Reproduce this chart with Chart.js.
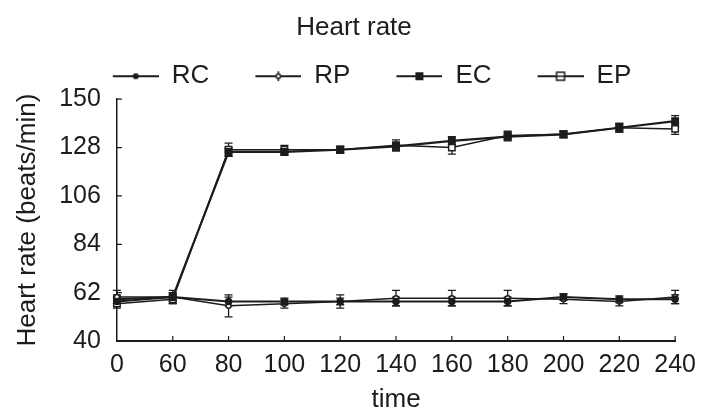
<!DOCTYPE html>
<html>
<head>
<meta charset="utf-8">
<script src="https://cdn.jsdelivr.net/npm/chart.js@4.4.1/dist/chart.umd.min.js"></script>
<style>
  html, body { margin: 0; padding: 0; background: #fff; }
  #wrap { width: 708px; height: 413px; }
</style>
</head>
<body>
<div id="wrap"><canvas id="grafica"></canvas></div>
<script>
// datos
const tiempos = ['0', '60', '80', '100', '120', '140', '160', '180', '200', '220', '240'];
const valoresRC = [58, 60, 58, 58, 58, 58, 58, 58, 60, 59, 59];
const valoresRP = [60, 60, 56, 57, 58, 59.5, 59.5, 59.5, 59, 58, 60];
const valoresEC = [59, 60, 126, 126, 127, 128.5, 131, 133, 134, 137, 140];
const valoresEP = [57, 59, 127, 127, 127, 129, 128, 133.5, 134, 137, 136.5];
const errorRC = [2, 2, 2, 1.5, 1.5, 2, 2, 2, 1.5, 1.5, 2];
const errorRP = [3, 3, 5, 2, 3, 3.5, 3.5, 3.5, 2, 2, 3];
const errorEC = [2, 2, 2, 1.5, 1.5, 2, 2, 2, 1.5, 2, 2.5];
const errorEP = [2, 2, 3, 2, 1.5, 2.5, 3, 2, 1.5, 2, 2.5];
const ticksY = [40, 62, 84, 106, 128, 150];

const fuente = "'Liberation Sans', Arial, sans-serif";
const tinta = '#1c1c1c';

// icono de leyenda: margen transparente + linea + marcador
function iconoLeyenda(tipo) {
    const c = document.createElement('canvas');
    c.width = 82; c.height = 16;
    const g = c.getContext('2d');
    const x0 = 36, x1 = 82, cy = 8, cx = (x0 + x1) / 2;
    g.strokeStyle = tinta;
    g.lineWidth = 2;
    g.beginPath(); g.moveTo(x0, cy); g.lineTo(x1, cy); g.stroke();
    g.lineWidth = 1.5;
    if (tipo === 'RC') {
        g.fillStyle = tinta;
        g.beginPath(); g.arc(cx, cy, 3, 0, Math.PI * 2); g.fill();
    } else if (tipo === 'RP') {
        g.beginPath(); g.moveTo(cx, cy - 5); g.lineTo(cx, cy + 5); g.stroke();
        g.fillStyle = '#fff';
        g.beginPath(); g.arc(cx, cy, 2.2, 0, Math.PI * 2); g.fill(); g.stroke();
    } else if (tipo === 'EC') {
        g.fillStyle = tinta;
        g.fillRect(cx - 4, cy - 4, 8, 8);
    } else {
        g.fillStyle = '#fff';
        g.fillRect(cx - 4, cy - 4, 8, 8);
        g.strokeRect(cx - 4, cy - 4, 8, 8);
        g.beginPath(); g.moveTo(cx - 4, cy); g.lineTo(cx + 4, cy); g.stroke();
    }
    return c;
}

const errores = [errorRC, errorRP, errorEC, errorEP];

// barras de error y marcas hacia dentro de los ejes
const pluginExtras = {
    id: 'extras',
    beforeDatasetsDraw(chart) {
        const ctx = chart.ctx;
        const y = chart.scales.y;
        ctx.save();
        ctx.strokeStyle = tinta;
        ctx.lineWidth = 1.3;
        chart.data.datasets.forEach((ds, i) => {
            const meta = chart.getDatasetMeta(i);
            meta.data.forEach((pt, j) => {
                const v = ds.data[j], e = errores[i][j];
                const yTop = y.getPixelForValue(v + e);
                const yBot = y.getPixelForValue(v - e);
                ctx.beginPath();
                ctx.moveTo(pt.x, yTop); ctx.lineTo(pt.x, yBot);
                ctx.moveTo(pt.x - 4, yTop); ctx.lineTo(pt.x + 4, yTop);
                ctx.moveTo(pt.x - 4, yBot); ctx.lineTo(pt.x + 4, yBot);
                ctx.stroke();
            });
        });
        ctx.restore();
    },
    afterDraw(chart) {
        const ctx = chart.ctx;
        const {x, y} = chart.scales;
        const area = chart.chartArea;
        ctx.save();
        ctx.strokeStyle = tinta;
        ctx.lineWidth = 1.2;
        ctx.beginPath();
        x.ticks.forEach((t, i) => {
            if (i === 0) return;
            const px = x.getPixelForTick(i);
            ctx.moveTo(px, area.bottom); ctx.lineTo(px, area.bottom - 5);
        });
        y.ticks.forEach((t, i) => {
            if (i === 0) return;
            const py = y.getPixelForTick(i);
            ctx.moveTo(area.left, py); ctx.lineTo(area.left + 5, py);
        });
        ctx.stroke();
        ctx.restore();
    }
};

function serie(nombre, datos, estilo, relleno, radio, grosor) {
    return {
        label: nombre,
        data: datos,
        borderColor: tinta,
        backgroundColor: relleno,
        borderWidth: grosor,
        pointStyle: estilo,
        pointRadius: radio,
        pointBorderColor: tinta,
        pointBackgroundColor: relleno,
        pointBorderWidth: 1.5,
        tension: 0
    };
}

const ctx = document.getElementById('grafica').getContext('2d');
const grafica = new Chart(ctx, {
    type: 'line',
    data: {
        labels: tiempos,
        datasets: [
            serie('RC', valoresRC, 'circle', tinta, 3, 2),
            serie('RP', valoresRP, 'circle', '#fff', 2.5, 1.5),
            serie('EC', valoresEC, 'rect', tinta, 4.5, 2.2),
            serie('EP', valoresEP, 'rect', '#fff', 4.5, 1.5)
        ]
    },
    options: {
        responsive: true,
        maintainAspectRatio: false,
        animation: false,
        layout: { padding: { left: 0, right: 0, top: 3, bottom: 0 } },
        plugins: {
            tooltip: { enabled: false },
            title: {
                display: true,
                text: 'Heart rate',
                color: tinta,
                font: { family: fuente, size: 26, weight: 'normal' },
                padding: { top: 9, bottom: 10 }
            },
            legend: {
                display: true,
                position: 'top',
                labels: {
                    usePointStyle: true,
                    pointStyleWidth: 82,
                    padding: 10,
                    color: tinta,
                    font: { family: fuente, size: 26 },
                    generateLabels(chart) {
                        return chart.data.datasets.map((ds, i) => ({
                            text: ds.label,
                            pointStyle: iconoLeyenda(ds.label),
                            fontColor: tinta,
                            lineWidth: 0,
                            datasetIndex: i
                        }));
                    }
                }
            }
        },
        scales: {
            x: {
                type: 'category',
                offset: false,
                grid: { display: false, tickLength: 0 },
                border: { display: true, color: tinta, width: 2 },
                ticks: {
                    color: tinta,
                    font: { family: fuente, size: 25, lineHeight: 1 },
                    padding: 12,
                    maxRotation: 0,
                    autoSkip: false
                },
                title: {
                    display: true,
                    text: 'time',
                    color: tinta,
                    font: { family: fuente, size: 26, lineHeight: 1 },
                    padding: { top: -3, bottom: 0 }
                }
            },
            y: {
                min: 40,
                max: 150,
                afterBuildTicks(scale) {
                    scale.ticks = ticksY.map(v => ({ value: v }));
                },
                grid: { display: false, tickLength: 0 },
                border: { display: true, color: tinta, width: 1.5 },
                ticks: {
                    color: tinta,
                    font: { family: fuente, size: 25 },
                    padding: 16
                },
                title: {
                    display: true,
                    text: 'Heart rate (beats/min)',
                    color: tinta,
                    font: { family: fuente, size: 26 },
                    padding: { top: 12, bottom: 0 }
                }
            }
        }
    },
    plugins: [pluginExtras]
});
</script>
</body>
</html>
